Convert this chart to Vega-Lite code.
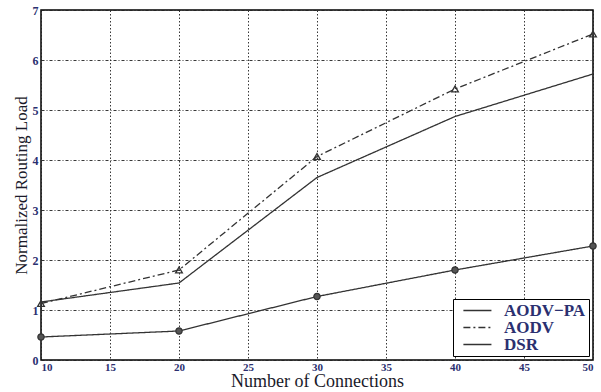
{
  "$schema": "https://vega.github.io/schema/vega-lite/v6.json",
  "width": 552,
  "height": 350,
  "autosize": "none",
  "padding": {"left": 41, "top": 10, "right": 8, "bottom": 32},
  "background": "white",
  "data": {"values": [
    {"conn": 10, "load": 1.16, "series": "AODV−PA"},
    {"conn": 20, "load": 1.54, "series": "AODV−PA"},
    {"conn": 30, "load": 3.65, "series": "AODV−PA"},
    {"conn": 40, "load": 4.87, "series": "AODV−PA"},
    {"conn": 50, "load": 5.72, "series": "AODV−PA"},
    {"conn": 10, "load": 1.13, "series": "AODV"},
    {"conn": 20, "load": 1.80, "series": "AODV"},
    {"conn": 30, "load": 4.07, "series": "AODV"},
    {"conn": 40, "load": 5.42, "series": "AODV"},
    {"conn": 50, "load": 6.52, "series": "AODV"},
    {"conn": 10, "load": 0.46, "series": "DSR"},
    {"conn": 20, "load": 0.58, "series": "DSR"},
    {"conn": 30, "load": 1.27, "series": "DSR"},
    {"conn": 40, "load": 1.80, "series": "DSR"},
    {"conn": 50, "load": 2.28, "series": "DSR"}
  ]},
  "encoding": {
    "x": {"field": "conn", "type": "quantitative",
      "scale": {"domain": [10, 50], "nice": false, "zero": false},
      "axis": {"title": "Number of Connections", "values": [10,15,20,25,30,35,40,45,50]}},
    "y": {"field": "load", "type": "quantitative",
      "scale": {"domain": [0, 7], "nice": false},
      "axis": {"title": "Normalized Routing Load", "values": [0,1,2,3,4,5,6,7]}}
  },
  "layer": [
    {
      "mark": {"type": "line", "color": "#333333", "strokeWidth": 1.3},
      "encoding": {
        "strokeDash": {"field": "series", "type": "nominal",
          "scale": {"domain": ["AODV−PA", "AODV", "DSR"], "range": [[1, 0], [7, 3, 2, 3], [1, 0]]},
          "legend": {"title": null}}
      }
    },
    {
      "transform": [{"filter": "datum.series === 'AODV'"}],
      "mark": {"type": "point", "shape": "triangle-up", "filled": false, "color": "#333333", "strokeWidth": 1.3, "size": 45, "opacity": 1}
    },
    {
      "transform": [{"filter": "datum.series === 'DSR'"}],
      "mark": {"type": "point", "shape": "circle", "filled": true, "color": "#555555", "stroke": "#333333", "strokeWidth": 1.2, "size": 40, "opacity": 1}
    }
  ],
  "config": {
    "view": {"stroke": "black", "strokeWidth": 1.5},
    "axis": {
      "domain": false,
      "grid": true,
      "gridColor": "#222222",
      "gridWidth": 1,
      "gridOpacity": 0.9,
      "ticks": false,
      "labelFont": "Liberation Serif",
      "labelFontSize": 12,
      "labelFontWeight": "bold",
      "labelColor": "#2b3070",
      "titleFont": "Liberation Serif",
      "titleFontWeight": "normal",
      "titleColor": "#1a1a2a"
    },
    "axisX": {"labelPadding": 1, "labelFontSize": 11, "titlePadding": 0, "titleFontSize": 18, "gridDash": [1.5, 2]},
    "axisY": {"labelPadding": 3, "titlePadding": 2, "titleFontSize": 17, "gridDash": [3, 2, 1, 2]},
    "legend": {
      "orient": "bottom-right",
      "offset": 4,
      "strokeColor": "black",
      "fillColor": "white",
      "padding": 3,
      "labelFont": "Liberation Serif",
      "labelFontSize": 17,
      "labelFontWeight": "bold",
      "labelColor": "#2b3070",
      "rowPadding": -4,
      "symbolSize": 150,
      "symbolType": "M-0.18,0H4.4",
      "symbolStrokeColor": "#333333",
      "symbolStrokeWidth": 1.3,
      "labelOffset": 31
    }
  }
}
